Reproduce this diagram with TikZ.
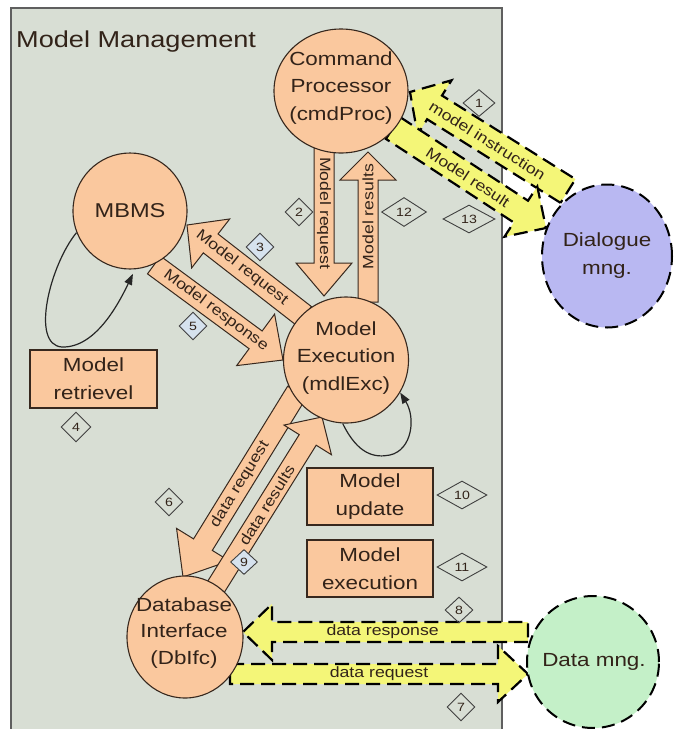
\documentclass[tikz,border=0pt]{standalone}
\usepackage{fontspec}
\setmainfont{Liberation Sans}[FakeStretch=1.18]
\usetikzlibrary{calc,arrows.meta,shapes.geometric}
\pgfdeclarelayer{bg}\pgfdeclarelayer{arr}\pgfsetlayers{bg,arr,main}
\definecolor{panelfill}{RGB}{216,222,212}
\definecolor{panelline}{RGB}{95,95,95}
\definecolor{orangefill}{RGB}{250,200,158}
\definecolor{edge}{RGB}{55,40,30}
\definecolor{txt}{RGB}{50,35,25}
\definecolor{lav}{RGB}{185,184,242}
\definecolor{mint}{RGB}{196,240,200}
\definecolor{yel}{RGB}{244,246,120}
\definecolor{tagblue}{RGB}{214,226,238}
\newcommand\fsz[2]{\fontsize{#1}{#2}\selectfont}
% #1 style, #2 tail, #3 tip, #4 shaft half width, #5 head half width, #6 head length, #7 label pos, #8 label
\newcommand\blockarrow[8]{%
  \coordinate (hb) at ($(#3)!#6!(#2)$);
  \draw[#1] ($(#2)!#4!90:(#3)$) -- ($(hb)!#4!90:(#3)$) -- ($(hb)!#5!90:(#3)$) -- (#3)
    -- ($(hb)!#5!-90:(#3)$) -- ($(hb)!#4!-90:(#3)$) -- ($(#2)!#4!-90:(#3)$) -- cycle;
  \path (#2) -- (#3) node[alab, sloped, pos=#7] {#8};
}
\begin{document}
\begin{tikzpicture}[x=1pt,y=-1pt,
  orb/.style={ellipse, draw=edge, fill=orangefill, line width=1.1pt, inner sep=0pt},
  ext/.style={ellipse, draw=black, line width=2pt, dash pattern=on 13pt off 7pt, inner sep=0pt},
  ntext/.style={align=center, text=txt, font=\fsz{19}{27.5}, inner sep=0pt},
  box/.style={rectangle, draw=edge, fill=orangefill, line width=1.2pt, minimum width=126pt, minimum height=57pt, align=center, text=txt, font=\fsz{19}{28}, inner sep=0pt},
  blk/.style={draw=edge, fill=orangefill, line width=1pt, line join=miter},
  yblk/.style={draw=black, fill=yel, line width=2.2pt, dash pattern=on 14pt off 7pt, line join=miter},
  alab/.style={text=txt, font=\fsz{15}{18}, inner sep=0pt},
  tag/.style={diamond, draw=black!75, line width=0.9pt, inner sep=0pt, text=txt, font=\fsz{12}{14}, minimum width=28pt, minimum height=28pt},
  loopline/.style={draw=black!85, line width=1.2pt, -{Triangle[length=11pt,width=8pt]}}
]
\useasboundingbox (0,0) rectangle (685,729);
\begin{pgfonlayer}{bg}
  \fill[white] (0,0) rectangle (685,729);
  \draw[fill=panelfill, draw=panelline, line width=1.6pt] (11,8) rectangle (502,735);
\end{pgfonlayer}

\node[anchor=west, text=txt, font=\fsz{23}{28}, inner sep=0pt] (title) at (16,42) {Model Management};

% main nodes
\node[orb, minimum width=134pt, minimum height=124pt] (cmd) at (341,91) {};
\node[ntext] (cmdT) at (341,88) {Command\\Processor\\(cmdProc)};
\node[orb, minimum width=114pt, minimum height=116pt] (mbms) at (130,211) {};
\node[ntext, font=\fsz{20}{24}] (mbmsT) at (mbms.center) {MBMS};
\node[orb, minimum width=125pt, minimum height=126pt] (mdl) at (346,360) {};
\node[ntext] (mdlT) at (346,358) {Model\\Execution\\(mdlExc)};
\node[orb, minimum width=116pt, minimum height=122pt] (db) at (185,637) {};
\node[ntext, font=\fsz{19}{26.5}] (dbT) at (184,633) {Database\\Interface\\(DbIfc)};
\node[ext, fill=lav, minimum width=130pt, minimum height=143pt] (dlg) at (607,256) {};
\node[ntext, font=\fsz{19}{28}] (dlgT) at (dlg.center) {Dialogue\\mng.};
\node[ext, fill=mint, minimum width=132pt, minimum height=132pt] (dat) at (593,662) {};
\node[ntext] (datT) at (594,662) {Data mng.};

\node[box, minimum width=127pt, minimum height=58pt] (ret) at (93.5,379) {Model\\retrievel};
\node[box] (upd) at (370,496.5) {Model\\update};
\node[box] (exe) at (370,568.5) {Model\\execution};

% arrow end points
\coordinate (a1t) at (324,148); \coordinate (a1h) at (324,296);
\coordinate (a2t) at (368,302); \coordinate (a2h) at (368,152);
\coordinate (a3t) at (304,316); \coordinate (a3h) at (187,225);
\coordinate (a4t) at (154,265); \coordinate (a4h) at (283,360);
\coordinate (a5t) at (297,392); \coordinate (a5h) at (183,577);
\coordinate (a6t) at (214,590); \coordinate (a6h) at (322,417);
\coordinate (y1t) at (568,191); \coordinate (y1h) at (410,92);
\coordinate (y2t) at (393,128); \coordinate (y2h) at (546,228);
\coordinate (y3t) at (528,632); \coordinate (y3h) at (243,632);
\coordinate (y4t) at (230,674); \coordinate (y4h) at (528,674);

\begin{pgfonlayer}{arr}
  \blockarrow{blk}{a1t}{a1h}{10pt}{28pt}{33pt}{0.44}{Model request}
  \blockarrow{blk}{a2t}{a2h}{10pt}{28pt}{28pt}{0.57}{Model results}
  \blockarrow{blk}{a3t}{a3h}{12pt}{31pt}{30pt}{0.53}{Model request}
  \blockarrow{blk}{a4t}{a4h}{11pt}{32pt}{34pt}{0.48}{Model response}
  \blockarrow{blk}{a5t}{a5h}{11pt}{31pt}{38pt}{0.5}{data request}
  \blockarrow{blk}{a6t}{a6h}{10pt}{28pt}{27pt}{0.49}{data results}
  \blockarrow{yblk}{y1t}{y1h}{14pt}{32pt}{29pt}{0.51}{model instruction}
  \blockarrow{yblk}{y2t}{y2h}{13pt}{30pt}{30pt}{0.49}{Model result}
  \blockarrow{yblk}{y3t}{y3h}{10pt}{28pt}{29pt}{0.51}{data response}
  \blockarrow{yblk}{y4t}{y4h}{10pt}{28pt}{30pt}{0.5}{data request}
\end{pgfonlayer}

% self loops
\coordinate (lpA) at (62,347);
\draw[loopline, shorten >=5pt] (mbms.202) .. controls (50,265) and (30,345) .. (lpA)
  .. controls (95,348) and (118,305) .. (mbms.-85);
\coordinate (lpB) at (390,455);
\draw[loopline] (mdl.-93) .. controls (358,455) and (375,458) .. (lpB)
  .. controls (412,450) and (416,418) .. (mdl.-31);

% numbered tags
\node[tag, minimum width=32pt, minimum height=27pt] (t1) at (479,103) {1};
\node[tag] (t2) at (299,212) {2};
\node[tag, fill=tagblue] (t3) at (260,247) {3};
\node[tag, minimum width=30pt, minimum height=30pt] (t4) at (76,427) {4};
\node[tag, fill=tagblue] (t5) at (193,326) {5};
\node[tag] (t6) at (169,502) {6};
\node[tag] (t7) at (461,707) {7};
\node[tag, minimum height=26pt] (t8) at (459,610) {8};
\node[tag, fill=tagblue, minimum width=27pt, minimum height=25pt] (t9) at (244,562) {9};
\node[tag, minimum width=50pt] (t10) at (462,495) {10};
\node[tag, minimum width=50pt] (t11) at (462,567) {11};
\node[tag, minimum width=45pt, minimum height=29pt] (t12) at (404,212) {12};
\node[tag, minimum width=52pt] (t13) at (469,219) {13};
\end{tikzpicture}
\end{document}
